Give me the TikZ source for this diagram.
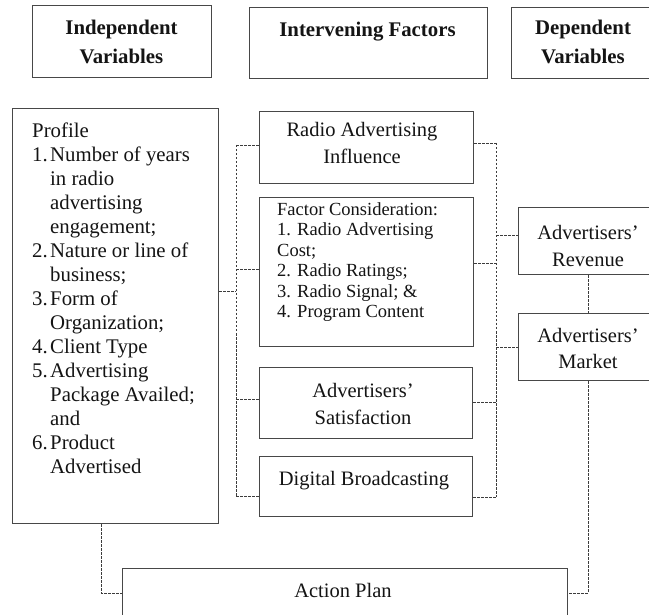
\documentclass[tikz,border=0pt]{standalone}
\usepackage{fontspec}
\setmainfont{Liberation Serif}
\definecolor{boxgray}{RGB}{72,72,72}
\definecolor{linkgray}{RGB}{60,60,60}
\definecolor{inkblack}{RGB}{20,20,20}
% numbered entries of the profile list
\newcommand{\profno}[1]{\makebox[18pt][l]{#1}}
\newcommand{\profgap}{\hspace*{18pt}}
\begin{document}
\begin{tikzpicture}[x=1pt,y=-1pt,
  box/.style={draw=boxgray, line width=1.1pt, inner sep=0pt, anchor=north west},
  link/.style={draw=linkgray, line width=0.8pt, dash pattern=on 2.5pt off 1.5pt},
  head/.style={font=\fontsize{20.8}{29}\selectfont\bfseries, text=inkblack,
               align=center, anchor=base, inner sep=0pt},
  txt/.style={font=\fontsize{20.5}{27}\selectfont, text=inkblack,
              align=center, anchor=base, inner sep=0pt},
  listtxt/.style={text=inkblack, align=left, anchor=base west, inner sep=0pt},
]
\useasboundingbox (0,0) rectangle (649,615);
\clip (0,0) rectangle (649,615);
\fill[white] (0,0) rectangle (649,615);

% column headings (multi-line texts are placed by their last baseline)
\node[box, minimum width=179pt, minimum height=72pt] (indepbox) at (32,5) {};
\node[box, minimum width=238pt, minimum height=71pt] (intbox) at (249,7) {};
\node[box, minimum width=150pt, minimum height=71pt] (depbox) at (511,7) {};
\node[head] (indeptxt) at (121.5,64) {Independent\\Variables};
\node[head] (inttxt) at (367.5,37) {Intervening Factors};
\node[head] (deptxt) at (583,64) {Dependent\\Variables};

% boxes
\node[box, minimum width=206pt, minimum height=415pt] (profile) at (12,108) {};
\node[box, minimum width=214pt, minimum height=72pt] (rai) at (259,111) {};
\node[box, minimum width=214pt, minimum height=149pt] (factor) at (259,197) {};
\node[box, minimum width=213pt, minimum height=71pt] (satis) at (259,367) {};
\node[box, minimum width=213pt, minimum height=60pt] (digital) at (259,456) {};
\node[box, minimum width=150pt, minimum height=67pt] (revenue) at (518,207) {};
\node[box, minimum width=150pt, minimum height=67pt] (market) at (518,313) {};
\node[box, minimum width=445pt, minimum height=60pt] (action) at (122,568) {};

% box texts
\node[listtxt, font=\fontsize{20.8}{24}\selectfont] (proftxt) at (32,473)
  {Profile\\
   \profno{1.}Number of years\\
   \profgap in radio\\
   \profgap advertising\\
   \profgap engagement;\\
   \profno{2.}Nature or line of\\
   \profgap business;\\
   \profno{3.}Form of\\
   \profgap Organization;\\
   \profno{4.}Client Type\\
   \profno{5.}Advertising\\
   \profgap Package Availed;\\
   \profgap and\\
   \profno{6.}Product\\
   \profgap Advertised};
\node[txt] (raitxt) at (362,164) {Radio Advertising\\Influence};
\node[listtxt, font=\fontsize{18.5}{20.6}\selectfont] (factortxt) at (277,318)
  {Factor Consideration:\\1. Radio Advertising\\Cost;\\2. Radio Ratings;\\3. Radio Signal; \&\\4. Program Content};
\node[txt] (satistxt) at (363,424) {Advertisers’\\Satisfaction};
\node[txt] (digitaltxt) at (364,485) {Digital Broadcasting};
\node[txt] (revenuetxt) at (588,267) {Advertisers’\\Revenue};
\node[txt, font=\fontsize{20.5}{26}\selectfont] (markettxt) at (588,368) {Advertisers’\\Market};
\node[txt] (actiontxt) at (343,597) {Action Plan};

% left bus: profile to intervening factors
\coordinate (lb1) at (236,145);
\coordinate (lb2) at (236,269);
\coordinate (lbp) at (236,291);
\coordinate (lb3) at (236,399);
\coordinate (lb4) at (236,496);
\draw[link] (lb1) -- (lb4);
\draw[link] (lb1) -- (lb1 -| rai.west);
\draw[link] (lb2) -- (lb2 -| factor.west);
\draw[link] (lb3) -- (lb3 -| satis.west);
\draw[link] (lb4) -- (lb4 -| digital.west);
\draw[link] (profile.east |- lbp) -- (lbp);

% right bus: intervening factors to dependent variables
\coordinate (rb1) at (496,143);
\coordinate (rbr) at (496,235);
\coordinate (rb2) at (496,263);
\coordinate (rbm) at (496,347);
\coordinate (rb3) at (496,402);
\coordinate (rb4) at (496,497);
\draw[link] (rb1) -- (rb4);
\draw[link] (rai.east |- rb1) -- (rb1);
\draw[link] (factor.east |- rb2) -- (rb2);
\draw[link] (satis.east |- rb3) -- (rb3);
\draw[link] (digital.east |- rb4) -- (rb4);
\draw[link] (rbr) -- (rbr -| revenue.west);
\draw[link] (rbm) -- (rbm -| market.west);

% dependent variables and action plan
\coordinate (ma) at (588,593);
\coordinate (pa) at (101,593);
\draw[link] (revenue.south -| ma) -- (market.north -| ma);
\draw[link] (market.south -| ma) -- (ma) -- (ma -| action.east);
\draw[link] (profile.south -| pa) -- (pa) -- (pa -| action.west);
\end{tikzpicture}
\end{document}
